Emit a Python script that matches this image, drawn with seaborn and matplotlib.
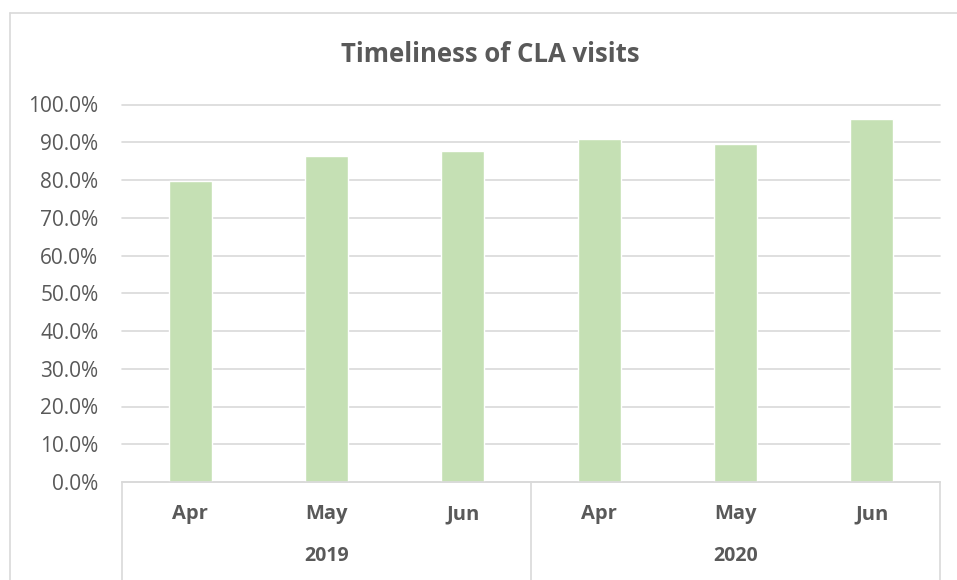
import pandas as pd
import matplotlib.pyplot as plt
from matplotlib.lines import Line2D
from matplotlib.ticker import PercentFormatter
import seaborn as sns

months = ['Apr', 'May', 'Jun', 'Apr', 'May', 'Jun']
years = ['2019', '2020']
values = [0.798, 0.863, 0.876, 0.909, 0.895, 0.961]

df = pd.DataFrame({'pos': range(len(months)), 'value': values})

sns.set_style('white')
plt.rcParams['font.family'] = ['Open Sans', 'DejaVu Sans']
txt = '#595959'
grid = '#d9d9d9'

fig = plt.figure(figsize=(9.57, 5.8), dpi=100)
ax = fig.add_axes([122 / 957, 98 / 580, 818 / 957, 377.5 / 580])

sns.barplot(data=df, x='pos', y='value', color='#c5e0b4', width=0.315,
            saturation=1, ax=ax, zorder=3)

ax.set_ylim(0, 1.0)
ax.set_xlim(-0.5, 5.5)
ax.set_yticks([i / 10 for i in range(11)])
ax.yaxis.set_major_formatter(PercentFormatter(1.0, decimals=1))
ax.tick_params(axis='y', length=0, pad=17, labelsize=15, labelcolor=txt)
ax.set_xticks([])
ax.set_xlabel('')
ax.set_ylabel('')
for s in ax.spines.values():
    s.set_visible(False)
ax.yaxis.grid(True, color=grid, linewidth=1.2, zorder=0)
ax.set_axisbelow(True)
for gl in ax.get_ygridlines():
    gl.set_clip_on(False)

# multi-level category axis
tr = ax.get_xaxis_transform()
ax.plot([-0.5, 5.5], [0, 0], color=grid, lw=1.2, transform=tr, clip_on=False, zorder=4)
for xv in [-0.5, 2.5, 5.5]:
    ax.plot([xv, xv], [0, -0.27], color=grid, lw=1.2, transform=tr, clip_on=False)
for i, m in enumerate(months):
    ax.text(i, -0.085, m, transform=tr, ha='center', va='center',
            fontsize=14.5, fontweight='bold', color=txt)
for j, y in enumerate(years):
    ax.text(1 + 3 * j, -0.196, y, transform=tr, ha='center', va='center',
            fontsize=14, fontweight='bold', color=txt)

fig.text(490 / 957, 1 - 55 / 580, 'Timeliness of CLA visits', ha='center',
         va='center', fontsize=18.5, fontweight='bold', color=txt)

# chart border
bx, by = 9.5 / 957, 1 - 12.5 / 580
fig.add_artist(Line2D([bx, bx], [0, by], color=grid, lw=1.2))
fig.add_artist(Line2D([bx, 1], [by, by], color=grid, lw=1.2))

fig.savefig('out.png', dpi=100)
